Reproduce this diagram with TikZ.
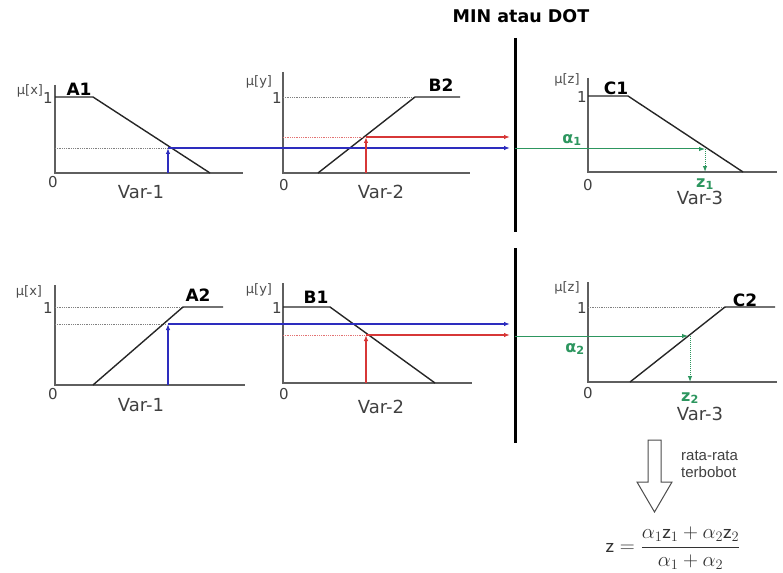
\documentclass[tikz,border=0pt]{standalone}
\usepackage{amsmath}
\usepackage{fontspec}
\setmainfont{DejaVu Sans}
\newfontfamily\narrowfont{Liberation Sans}
\usepackage{xcolor}
\usetikzlibrary{arrows.meta, positioning}
\definecolor{inblue}{RGB}{45,45,190}
\definecolor{inred}{RGB}{215,55,55}
\definecolor{outgreen}{RGB}{45,150,95}
\definecolor{axisgray}{RGB}{95,95,95}

\begin{document}
\begin{tikzpicture}[x=1pt, y=-1pt, >={Latex[length=6pt,width=4.5pt]},
    font=\fontsize{18}{20}\selectfont,
    axis/.style={draw=axisgray, line width=1.2pt},
    mf/.style={draw=black!85, line width=1.4pt},
    level/.style={draw=gray, densely dotted, line width=0.8pt},
    bluearr/.style={->, inblue, line width=1.3pt},
    redarr/.style={->, inred, line width=1.6pt},
    greenarr/.style={->, outgreen, line width=1pt},
    greendot/.style={->, outgreen, densely dotted, line width=1pt},
    mulab/.style={font=\fontsize{13}{15}\selectfont, text=black!70, inner sep=1pt},
    tick/.style={font=\fontsize{15}{17}\selectfont, text=black!75, inner sep=1pt},
    setlab/.style={font=\fontsize{17}{19}\selectfont\bfseries, inner sep=1pt},
    varlab/.style={text=black!75, inner sep=1pt},
    glab/.style={font=\fontsize{16}{18}\selectfont\bfseries, text=outgreen, inner sep=1pt}]

    \useasboundingbox (0,0) rectangle (783,572);

    % --- Separator ---
    \node[setlab, font=\fontsize{17.5}{19}\selectfont\bfseries] (title) at (521,16) {MIN atau DOT};
    \draw[line width=3pt] (515,38) -- (515,232);
    \draw[line width=3pt] (515,248) -- (515,443);

    % --- Rule 1: A1 ---
    \draw[axis] (55,85) -- (55,173) -- (243,173);
    \draw[mf] (55,97) -- (93,97) -- (210,173);
    \draw[level] (55,148) -- (168,148);
    \node[mulab] (mux1) at (30,91) {μ[x]};
    \node[tick] (one1) at (48,98) {1};
    \node[tick] (zero1) at (53,182) {0};
    \node[setlab] (A1) at (79,89) {A1};
    \node[varlab] (var1a) at (141,192) {Var-1};

    % --- Rule 1: B2 ---
    \draw[axis] (283,72) -- (283,173) -- (470,173);
    \draw[level] (283,97) -- (415,97);
    \draw[mf] (318,173) -- (415,97) -- (460,97);
    \draw[level, draw=inred!70] (283,137) -- (366,137);
    \node[mulab] (muy1) at (259,82) {μ[y]};
    \node[tick] (one2) at (277,98) {1};
    \node[tick] (zero2) at (284,185) {0};
    \node[setlab] (B2) at (441,85) {B2};
    \node[varlab] (var2a) at (381,192) {Var-2};

    % --- Rule 1: C1 ---
    \draw[axis] (588,78) -- (588,172) -- (777,172);
    \draw[mf] (588,96) -- (628,96) -- (743,172);
    \node[mulab] (muz1) at (567,80) {μ[z]};
    \node[tick] (one3) at (582,97) {1};
    \node[tick] (zero3) at (588,185) {0};
    \node[setlab] (C1) at (616,88) {C1};
    \node[glab] (al1) at (572,140) {α\textsubscript{1}};
    \node[glab] (z1) at (705,184) {z\textsubscript{1}};
    \node[varlab] (var3a) at (700,198) {Var-3};

    % --- Rule 2: A2 ---
    \draw[axis] (55,285) -- (55,385) -- (245,385);
    \draw[level] (55,307) -- (183,307);
    \draw[level] (55,324) -- (166,324);
    \draw[mf] (93,385) -- (183,307) -- (223,307);
    \node[mulab] (mux2) at (29,292) {μ[x]};
    \node[tick] (one4) at (48,308) {1};
    \node[tick] (zero4) at (53,394) {0};
    \node[setlab] (A2) at (198,295) {A2};
    \node[varlab] (var1b) at (141,405) {Var-1};

    % --- Rule 2: B1 ---
    \draw[axis] (283,283) -- (283,383) -- (472,383);
    \draw[mf] (283,307) -- (330,307) -- (435,383);
    \draw[level, draw=inred!70] (283,335) -- (366,335);
    \node[mulab] (muy2) at (259,290) {μ[y]};
    \node[tick] (one5) at (277,308) {1};
    \node[tick] (zero5) at (284,394) {0};
    \node[setlab] (B1) at (316,297) {B1};
    \node[varlab] (var2b) at (381,407) {Var-2};

    % --- Rule 2: C2 ---
    \draw[axis] (588,282) -- (588,382) -- (777,382);
    \draw[level] (588,307) -- (725,307);
    \draw[mf] (630,382) -- (725,307) -- (775,307);
    \node[mulab] (muz2) at (567,288) {μ[z]};
    \node[tick] (one6) at (582,308) {1};
    \node[tick] (zero6) at (588,393) {0};
    \node[setlab] (C2) at (745,300) {C2};
    \node[glab] (al2) at (575,349) {α\textsubscript{2}};
    \node[glab] (z2) at (690,398) {z\textsubscript{2}};
    \node[varlab] (var3b) at (700,414) {Var-3};

    % --- Cut points ---
    \coordinate (x1) at (168,173);  \coordinate (h1) at (168,148);
    \coordinate (y1) at (366,173);  \coordinate (h2) at (366,137);
    \coordinate (x2) at (168,385);  \coordinate (h4) at (168,324);
    \coordinate (y2) at (366,383);  \coordinate (h5) at (366,335);
    \coordinate (m1b) at (510,148); \coordinate (m1r) at (510,137);
    \coordinate (m2b) at (510,324); \coordinate (m2r) at (510,335);
    \coordinate (s1) at (515,149);  \coordinate (c1) at (705,149);
    \coordinate (d1) at (705,172);
    \coordinate (s2) at (515,336);  \coordinate (c2) at (688,336);
    \coordinate (d2) at (690,382);

    % --- Edges ---
    \draw[bluearr] (x1) -- (h1);
    \draw[bluearr] (h1) -- (m1b);
    \draw[redarr] (y1) -- (h2);
    \draw[redarr] (h2) -- (m1r);
    \draw[bluearr] (x2) -- (h4);
    \draw[bluearr] (h4) -- (m2b);
    \draw[redarr] (y2) -- (h5);
    \draw[redarr] (h5) -- (m2r);
    \draw[greenarr] (s1) -- (c1);
    \draw[greendot] (c1) -- (d1);
    \draw[greenarr] (s2) -- (c2);
    \draw[greendot] (c2 -| d2) -- (d2);

    % --- Defuzzification ---
    \draw[line width=1pt, draw=black!70] (648,440) -- (661,440) -- (661,482)
      -- (672,482) -- (654.5,512) -- (637,482) -- (648,482) -- cycle;
    \node[font=\narrowfont\fontsize{15}{17}\selectfont, text=black!75, align=left,
          anchor=west, inner sep=1pt] (avg) at (680,464) {rata-rata\\terbobot};
    \node[font=\fontsize{21}{24}\selectfont, text=black!80, inner sep=1pt] (zout) at (673,548)
      {$\mathsf{z} = \dfrac{\alpha_1\mathsf{z}_1 + \alpha_2\mathsf{z}_2}{\alpha_1 + \alpha_2}$};
\end{tikzpicture}
\end{document}
